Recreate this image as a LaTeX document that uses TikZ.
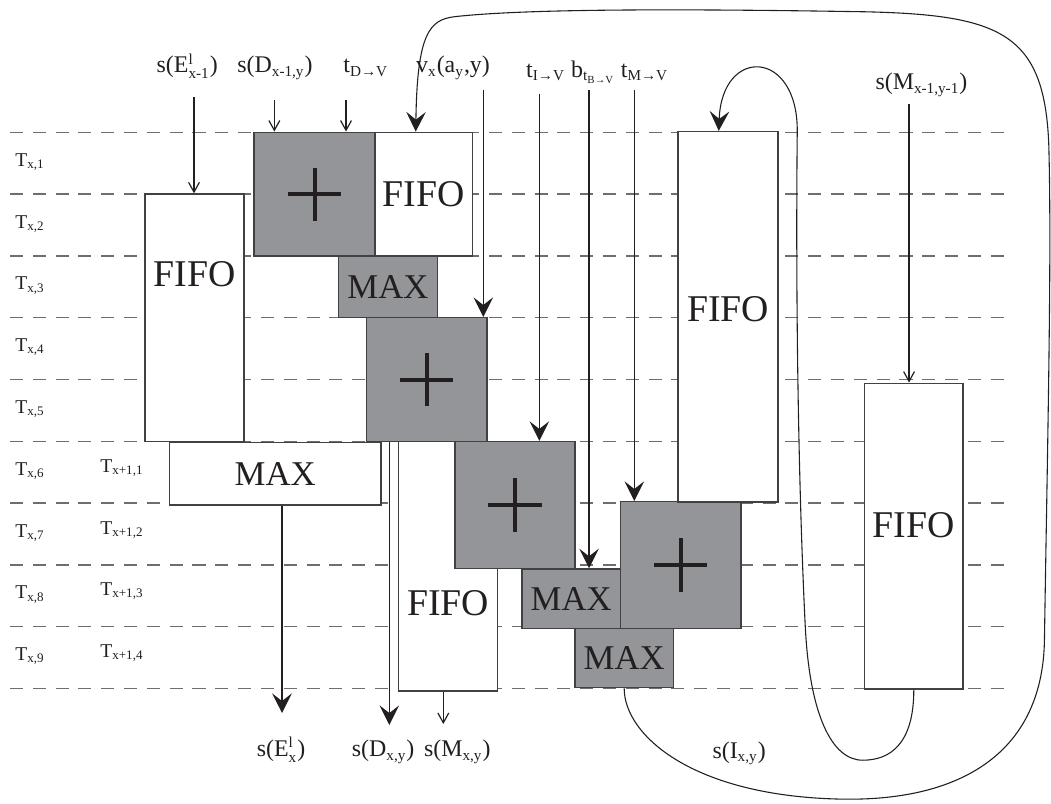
\documentclass[tikz,border=0pt]{standalone}
\usepackage{fontspec}
\setmainfont{Liberation Serif}
\usepackage{amsmath}
\usetikzlibrary{arrows.meta,positioning,calc}
\definecolor{Ink}{HTML}{231F20}
\definecolor{Frame}{HTML}{414042}
\definecolor{Grid}{HTML}{6D6E71}
\definecolor{OpGray}{HTML}{939598}
\DeclareMathSizes{11}{11}{7}{5}
\DeclareMathSizes{9}{9}{6}{5}
\tikzset{
  rowline/.style={Grid,line width=0.6pt,dash pattern=on 6pt off 4.5pt},
  fifo/.style={draw=Frame,fill=white,line width=0.7pt,inner sep=0pt,minimum width=1.6cm,font=\fontsize{17.4}{20}\selectfont,text=Ink},
  fifotext/.style={inner sep=0pt,font=\fontsize{17.4}{20}\selectfont,text=Ink},
  maxbox/.style={draw=Frame,fill=OpGray,line width=0.7pt,inner sep=0pt,minimum width=1.6cm,minimum height=0.97cm,font=\fontsize{16}{18}\selectfont,text=Ink},
  plusbox/.style={draw=Frame,fill=OpGray,line width=0.7pt,inner sep=0pt,minimum width=1.95cm,minimum height=2cm},
  plusmark/.style={Ink,line width=1.85pt},
  sig/.style={font=\fontsize{11}{13}\selectfont,text=Ink,inner sep=0pt,anchor=base},
  rowlbl/.style={font=\fontsize{9}{11}\selectfont,text=Ink,inner sep=0pt,anchor=base west},
  sigarrow/.style={-{Straight Barb[length=4.5pt,width=5pt]},Ink,line width=0.55pt},
  bigarrow/.style={-{Stealth[length=9pt,width=9pt,inset=3.5pt]},Ink,line width=0.55pt},
  feedback/.style={-{Stealth[length=9pt,width=9pt,inset=3.5pt]},Ink,line width=0.5pt},
}
\begin{document}
\begin{tikzpicture}[x=1cm,y=1cm]
\useasboundingbox (0,-1.853) rectangle (17.006,11.141);
% time slots
\foreach \k in {0,...,9}
  \draw[rowline] (0.162,\k) -- (16.39,\k);
\foreach \k in {1,...,9}
  \node[rowlbl] (tx\k) at (0.243,{9.45-\k}) {T$_{\text{x,\k}}$};
\foreach \k in {1,...,4}
  \node[rowlbl] (tn\k) at (1.618,{4.5-\k}) {T$_{\text{x+1,\k}}$};
% operators
\node[fifo,minimum height=4cm] (fifoL) at (3.147,6.0) {};
\node[fifotext,below=1.09cm of fifoL.north] {FIFO};
\node[plusbox] (plusA) at (5.089,8.0) {};
\node[fifo,minimum width=1.578cm,minimum height=2cm] (fifoT) at (6.857,8.0) {FIFO};
\node[maxbox,minimum height=1cm] (maxA) at (6.277,6.5) {MAX};
\node[plusbox,minimum width=1.942cm] (plusB) at (6.905,5.0) {};
\node[maxbox,fill=white,minimum width=3.422cm,minimum height=1.015cm] (maxW) at (4.454,3.477) {MAX};
\node[fifo,minimum height=4.03cm] (fifoM) at (7.249,1.979) {};
\node[fifotext,below=2.41cm of fifoM.north] {FIFO};
\node[plusbox,minimum width=1.942cm,minimum height=2.05cm] (plusC) at (8.333,2.97) {};
\node[maxbox,minimum height=0.96cm] (maxB) at (9.243,1.454) {MAX};
\node[plusbox,minimum height=2.05cm] (plusD) at (11.017,1.998) {};
\node[maxbox,minimum height=0.96cm] (maxC) at (10.1,0.494) {MAX};
\node[fifo,minimum width=1.618cm,minimum height=5.99cm] (fifoR) at (11.78,6.016) {};
\node[fifotext,below=2.68cm of fifoR.north] {FIFO};
\node[fifo,minimum height=4.946cm] (fifoB) at (14.786,2.465) {};
\node[fifotext,below=2.10cm of fifoB.north] {FIFO};
\foreach \p in {plusA,plusB,plusC,plusD}
  \draw[plusmark] ([xshift=-0.43cm]\p.center) -- ([xshift=0.43cm]\p.center)
    ([yshift=-0.43cm]\p.center) -- ([yshift=0.43cm]\p.center);
% inputs
\node[sig] (lEin) at (3.03,9.96) {s(E$^{\text{l}}_{\text{x-1}}$)};
\node[sig] (lDin) at (4.45,9.96) {s(D$_{\text{x-1,y}}$)};
\node[sig] (lTD) at (5.92,9.96) {t$_{\text{D→V}}$};
\node[sig] (lV) at (7.33,9.96) {v$_{\text{x}}$(a$_{\text{y}}$,y)};
\node[sig] (lTI) at (8.83,9.89) {t$_{\text{I→V}}$};
\node[sig] (lB) at (9.60,9.89) {b$_{\text{t}_{\text{B→V}}}$};
\node[sig] (lTM) at (10.43,9.89) {t$_{\text{M→V}}$};
\node[sig] (lMin) at (14.91,9.69) {s(M$_{\text{x-1,y-1}}$)};
\coordinate (eIn) at (3.139,9.57);
\coordinate (dIn) at (4.439,9.52);
\coordinate (tdIn) at (5.599,9.52);
\coordinate (vIn) at (7.82,9.69);
\coordinate (tiIn) at (8.727,9.62);
\coordinate (btIn) at (9.531,9.68);
\coordinate (tmIn) at (10.264,9.68);
\coordinate (mIn) at (14.709,9.46);
\draw[sigarrow] (eIn) -- (eIn |- fifoL.north);
\draw[sigarrow] (dIn) -- (dIn |- plusA.north);
\draw[sigarrow] (tdIn) -- (tdIn |- plusA.north);
\draw[bigarrow] (vIn) -- (vIn |- plusB.north);
\draw[bigarrow] (tiIn) -- (tiIn |- plusC.north);
\draw[bigarrow] (btIn) -- (btIn |- maxB.north);
\draw[bigarrow] (tmIn) -- (tmIn |- plusD.north);
\draw[sigarrow] (mIn) -- (mIn |- fifoB.north);
% outputs
\node[sig] (lEout) at (4.547,-1.10) {s(E$^{\text{l}}_{\text{x}}$)};
\node[sig] (lDout) at (6.2,-1.10) {s(D$_{\text{x,y}}$)};
\node[sig] (lMout) at (7.40,-1.10) {s(M$_{\text{x,y}}$)};
\node[sig] (lI) at (11.96,-1.125) {s(I$_{\text{x,y}}$)};
\coordinate (eOut) at (4.563,-0.396);
\coordinate (dOut) at (6.30,-0.59);
\coordinate (mOut) at (7.173,-0.574);
\draw[bigarrow] (maxW.south -| eOut) -- (eOut);
\draw[bigarrow] (plusB.south -| dOut) -- (dOut);
\draw[sigarrow] (fifoM.south -| mOut) -- (mOut);
% feedback
\draw[feedback] (maxC.south) .. controls (10.1,-0.75) and (11.2,-1.75) .. (13.64,-1.79)
  .. controls (15.6,-1.82) and (16.88,-1.0) .. (16.9,0.8)
  .. controls (16.95,4) and (17.02,7) .. (16.97,8.8)
  .. controls (16.9,10.6) and (16.2,10.9) .. (14.0,10.95)
  .. controls (11,11.0) and (8.5,11.0) .. (7.35,10.87)
  .. controls (6.95,10.82) and (6.75,10.6) .. ([xshift=-0.13cm]fifoT.north);
\draw[feedback] (fifoB.south) .. controls (14.786,-0.9) and (14.4,-1.16) .. (13.96,-1.16)
  .. controls (13.45,-1.16) and (13.1,-0.4) .. (13.03,1.0)
  .. controls (12.93,3) and (12.87,6) .. (12.9,9.0)
  .. controls (12.92,10.35) and (11.68,10.4) .. ([xshift=-0.15cm]fifoR.north);
\end{tikzpicture}
\end{document}
